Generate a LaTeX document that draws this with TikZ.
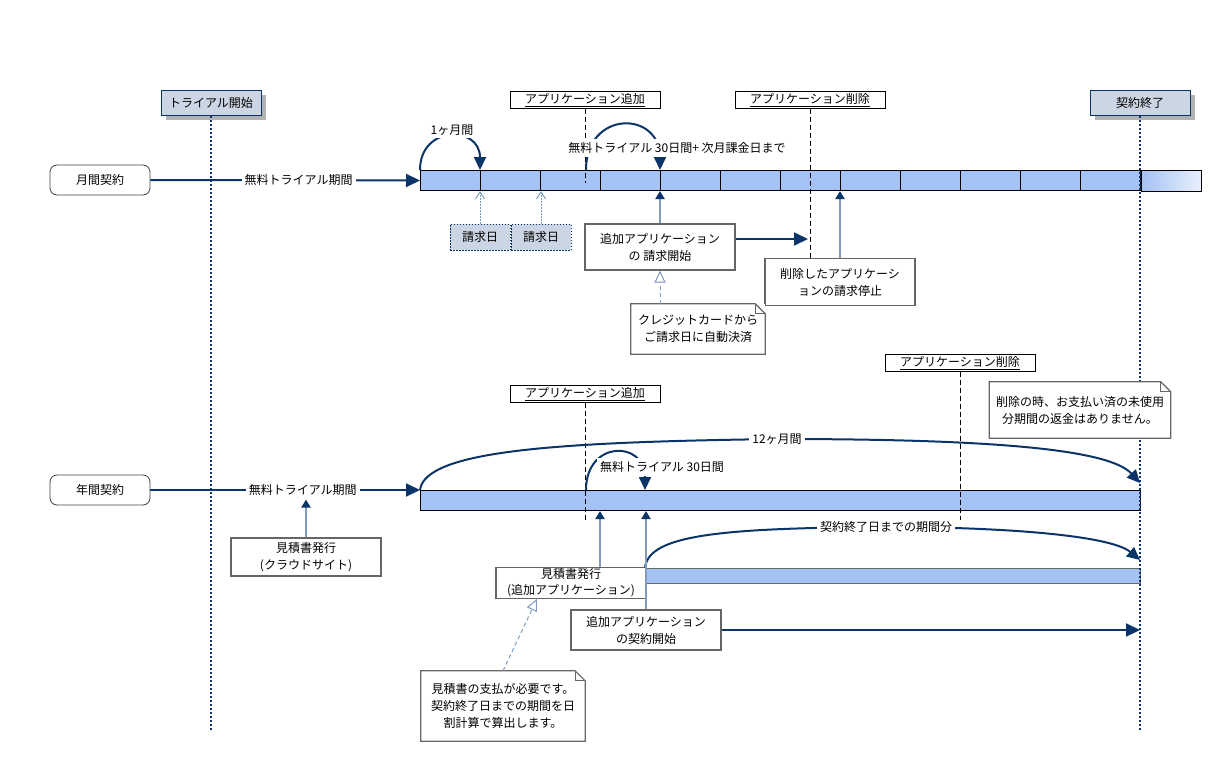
\documentclass[tikz,border=0pt]{standalone}
\usepackage{fontspec}
\setmainfont{Noto Sans CJK JP}
\usetikzlibrary{positioning, arrows.meta, shadows}
\definecolor{navy}{HTML}{0B3468}
\definecolor{steel}{HTML}{7F9BC0}
\definecolor{barblue}{HTML}{A4C2F4}
\definecolor{headfill}{HTML}{CCD5E3}
\tikzstyle{lifehead} = [rectangle, draw=navy, line width=1pt, fill=headfill, minimum width=100pt, minimum height=25pt, drop shadow={shadow xshift=5pt, shadow yshift=-5pt, fill=black!30, opacity=1}]
\tikzstyle{event} = [rectangle, draw=black, line width=0.8pt, fill=white, minimum width=150pt, minimum height=17pt, inner sep=0pt]
\tikzstyle{contract} = [rectangle, rounded corners=7pt, draw=black!75, line width=0.8pt, fill=white, minimum width=100pt, minimum height=30pt]
\tikzstyle{action} = [rectangle, draw=black!60, line width=1.2pt, fill=white, minimum width=150pt, align=center, inner sep=2pt]
\tikzstyle{memo} = [rectangle, fill=white, align=center, inner sep=2pt]
\tikzstyle{billday} = [rectangle, draw=navy, dash pattern=on 1.5pt off 1.5pt, line width=1pt, fill=headfill, minimum width=60pt, minimum height=26pt]
\tikzstyle{timebar} = [rectangle, draw=black, line width=1pt, fill=barblue, minimum height=20pt, inner sep=0pt, anchor=north west]
\tikzstyle{lifeline} = [navy, line width=2pt, dash pattern=on 2pt off 2pt]
\tikzstyle{eventline} = [black, line width=0.8pt, dash pattern=on 5pt off 3pt]
\tikzstyle{arrow} = [navy, line width=2pt, -{Triangle[length=14pt, width=13pt]}]
\tikzstyle{period} = [navy, line width=2pt, -{Triangle[length=13pt, width=12pt]}]
\tikzstyle{uparrow} = [steel, line width=2pt, -{Triangle[length=8pt, width=9pt, color=navy]}]
\tikzstyle{billarrow} = [steel, line width=1pt, dash pattern=on 1.5pt off 1.5pt, -{Straight Barb[length=7pt, width=9pt]}]
\tikzstyle{notelink} = [steel, line width=1pt, dash pattern=on 4pt off 3pt, -{Triangle[open, length=12pt, width=11pt, fill=white]}]
\tikzstyle{lbl} = [fill=white, text=black, inner sep=3pt]
\newcommand{\foldnote}[1]{
  \draw[black!60, line width=1.2pt] (#1.south west) -- (#1.north west) -- ([xshift=-10pt]#1.north east) -- ([yshift=-10pt]#1.north east) -- (#1.south east) -- cycle;
  \draw[black!60, line width=1pt] ([xshift=-10pt]#1.north east) -- ([xshift=-10pt, yshift=-10pt]#1.north east) -- ([yshift=-10pt]#1.north east);
}

\begin{document}
\begin{tikzpicture}[x=1pt, y=-1pt, font=\fontsize{12}{17}\selectfont]
\useasboundingbox (0,0) rectangle (1220,765);
% time bars
\node (mbar) [timebar, minimum width=780pt] at (420,170) {};
\shade[left color=barblue, right color=barblue!25!white] ([xshift=-60pt]mbar.south east) rectangle (mbar.north east);
\draw[line width=1pt] ([xshift=-60pt]mbar.south east) rectangle (mbar.north east);
\foreach \x in {480,540,...,1140}
  \draw[line width=0.8pt] (\x,170) -- (\x,190);
\node (abar) [timebar, minimum width=720pt] at (420,490) {};
\node (pbar) [timebar, draw=black!60, minimum width=495pt, minimum height=15pt] at (645,568) {};

% lifelines
\node (trial) [lifehead] at (211,103) {トライアル開始};
\node (close) [lifehead] at (1140,103) {契約終了};
\coordinate (trialend) at (211,730);
\coordinate (closeend) at (1140,730);
\draw[lifeline] (trial.south) -- (trialend);
\draw[lifeline] (close.south) -- (closeend);

% add / delete events
\node (addm) [event] at (585,100) {\underline{アプリケーション追加}};
\node (delm) [event] at (810,100) {\underline{アプリケーション削除}};
\node (adda) [event] at (585,394) {\underline{アプリケーション追加}};
\node (dela) [event] at (960,363) {\underline{アプリケーション削除}};
\node (delstop) [action, minimum height=47pt] at (840,282) {削除したアプリケーシ\\ョンの請求停止};
\coordinate (addmend) at (585,183);
\coordinate (addaend) at (585,520);
\coordinate (delaend) at (960,520);
\draw[eventline] (addm.south) -- (addmend);
\draw[eventline] (delm.south) -- (delm.south |- delstop.north);
\draw[eventline] (adda.south) -- (addaend);
\draw[eventline] (dela.south) -- (delaend);

% monthly contract
\node (monthly) [contract] at (100,180) {月間契約};
\draw[arrow] (monthly) -- node[lbl, pos=0.55] {無料トライアル期間} (mbar.west);
\coordinate (bill1top) at (480,170);
\coordinate (addstartm) at (586,170);
\coordinate (addbilltop) at (660,170);
\draw[period] (mbar.north west) .. controls (420,125) and (480,125) .. (bill1top);
\node[lbl] (onemonth) at (452,130) {1ヶ月間};
\draw[period] (addstartm) .. controls (586,110) and (660,110) .. (addbilltop);
\node[lbl] (freem) at (677,148) {無料トライアル 30日間+ 次月課金日まで};
\node (bill1) [billday] at (480,237) {請求日};
\node (bill2) [billday, right=0pt of bill1] {請求日};
\draw[billarrow] (bill1) -- (bill1 |- mbar.south);
\draw[billarrow] (bill2) -- (bill2 |- mbar.south);
\node (addbill) [action, minimum height=46pt] at (660,247) {追加アプリケーション\\の 請求開始};
\draw[uparrow] (addbill) -- (addbill |- mbar.south);
\coordinate (delmark) at (808,239);
\draw[arrow] (addbill.east |- delmark) -- (delmark);
\draw[uparrow] (delstop) -- (delstop |- mbar.south);
\node (cardnote) [memo, minimum width=134pt, minimum height=50pt] at (698,329) {クレジットカードから\\ご請求日に自動決済};
\foldnote{cardnote}
\draw[notelink] (addbill |- cardnote.north) -- (addbill.south);

% annual contract
\node (annual) [contract] at (100,490) {年間契約};
\draw[arrow] (annual) -- node[lbl, pos=0.565] (afree) {無料トライアル期間} (abar.north west);
\coordinate (yearend) at (1140,483);
\coordinate (addstarta) at (586,490);
\coordinate (freeend) at (645,490);
\draw[period] (abar.north west) .. controls (425,450) and (560,442) .. (777,439) .. controls (1000,439) and (1110,450) .. (yearend);
\node[lbl] (year) at (777,439) {12ヶ月間};
\draw[period] (addstarta) .. controls (586,440) and (645,440) .. (freeend);
\node[lbl] (freea) at (662,467) {無料トライアル 30日間};
\node (quote1) [action, minimum height=38pt] at (306,557) {見積書発行\\(クラウドサイト)};
\draw[uparrow] (quote1) -- (quote1 |- afree.south);
\coordinate (restend) at (1140,560);
\draw[period] (pbar.north west) .. controls (648,535) and (720,528) .. (886,527) .. controls (1000,527) and (1110,535) .. (restend);
\node[lbl] (rest) at (886,527) {契約終了日までの期間分};
\node (quote2) [action, minimum height=30pt, inner ysep=1pt, font=\fontsize{12}{16}\selectfont] at (571,583) {見積書発行\\(追加アプリケーション)};
\draw[uparrow] ([xshift=29pt]quote2.north) -- ([xshift=29pt]quote2.north |- abar.south);
\node (addstart) [action, minimum height=40pt] at (646,630) {追加アプリケーション\\の契約開始};
\draw[uparrow] (addstart) -- (addstart |- abar.south);
\draw[arrow] (addstart) -- (addstart -| close);
\node (quotenote) [memo, minimum width=164pt, minimum height=70pt] at (503,706) {見積書の支払が必要です。\\契約終了日までの期間を日\\割計算で算出します。};
\foldnote{quotenote}
\draw[notelink] (quotenote.north) -- ([xshift=-34pt]quote2.south);
\node (refund) [memo, minimum width=181pt, minimum height=56pt] at (1080,410) {削除の時、お支払い済の未使用\\分期間の返金はありません。};
\foldnote{refund}
\end{tikzpicture}
\end{document}
